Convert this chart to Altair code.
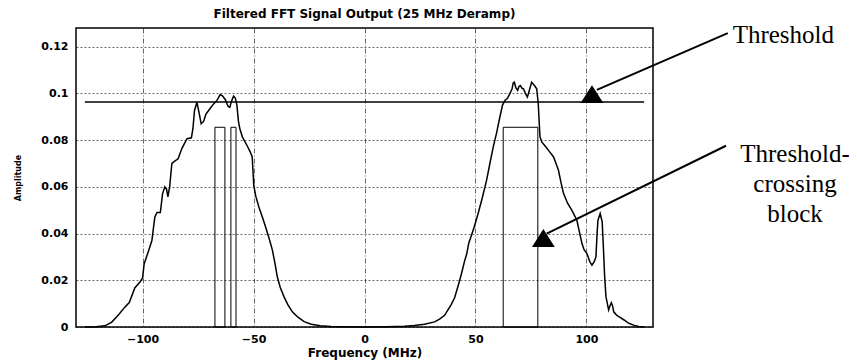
import altair as alt
import pandas as pd

# ---- data ----
freq = [-126, -121, -117, -114, -111, -108, -106, -103.5, -101, -100, -99.3, -97.5, -95.8, -94.5, -93.5, -92,
        -91, -90, -89.2, -88.6, -87.8, -86.8, -85.5, -84, -82.3, -80, -78, -77.3, -76.6, -75.5, -74.6, -73.6,
        -72.5, -71.5, -70, -68, -66.5, -65, -64, -62.7, -61.5, -60.7, -59.8, -59, -58.2, -57.5, -56.8, -56.2,
        -55, -53, -51.5, -50.6, -50.2, -49.9, -49, -47.6, -46, -44.6, -43, -41.5, -40.3, -39.3, -38, -36.3,
        -34.5, -32.5, -30, -27.2, -24, -20, -15, -10, 0, 10, 18, 22.5, 27, 31.6, 34, 36.1, 37.6, 39, 40.6,
        42, 42.9, 44, 45.2, 46, 47, 48.2, 49.5, 51.2, 53, 55, 56.5, 58, 59.5, 61, 62.2, 63.3, 64.5, 65.5,
        66.5, 67, 67.5, 68.2, 69, 69.6, 70.2, 71, 71.6, 72.5, 73.4, 74.2, 75.3, 76.5, 77.6, 78.3, 78.8, 79.1,
        80, 81.4, 83, 85.2, 86.3, 87.4, 88.5, 89.7, 91.5, 93.4, 95.7, 97, 98, 99, 100.2, 101.5, 102.5, 103.5,
        104.3, 104.8, 105.2, 106.2, 107.1, 107.6, 108.2, 108.8, 110, 110.6, 111.2, 111.8, 112.3, 113.5, 114.6,
        117, 119.1, 121.5, 123.6, 126]
amp = [0.0, 0.0001, 0.0005, 0.002, 0.005, 0.0085, 0.0105, 0.0167, 0.0195, 0.021, 0.027, 0.032, 0.037, 0.047,
       0.049, 0.049, 0.057, 0.060, 0.059, 0.0557, 0.060, 0.070, 0.071, 0.072, 0.0764, 0.0806, 0.081, 0.085,
       0.0927, 0.0962, 0.092, 0.087, 0.088, 0.091, 0.093, 0.0955, 0.097, 0.0995, 0.099, 0.0973, 0.0945, 0.094,
       0.097, 0.0988, 0.098, 0.095, 0.088, 0.085, 0.0813, 0.0778, 0.075, 0.0728, 0.066, 0.0607, 0.056, 0.0514,
       0.047, 0.0429, 0.038, 0.0329, 0.027, 0.0215, 0.017, 0.013, 0.0095, 0.0065, 0.0042, 0.0023, 0.0012,
       0.0005, 0.0002, 0.0001, 0.0, 0.0001, 0.0003, 0.0006, 0.0012, 0.0022, 0.0035, 0.0050, 0.0073, 0.0095,
       0.0125, 0.017, 0.020, 0.024, 0.0286, 0.031, 0.036, 0.0393, 0.043, 0.0486, 0.055, 0.0628, 0.070, 0.077,
       0.083, 0.0899, 0.095, 0.097, 0.098, 0.0999, 0.102, 0.1045, 0.1048, 0.1025, 0.1013, 0.103, 0.1034,
       0.1022, 0.102, 0.100, 0.0984, 0.101, 0.1048, 0.1035, 0.102, 0.0956, 0.086, 0.0813, 0.079, 0.0775,
       0.0755, 0.0728, 0.070, 0.0671, 0.062, 0.0571, 0.053, 0.050, 0.0457, 0.040, 0.0357, 0.033, 0.0315,
       0.028, 0.0265, 0.028, 0.030, 0.040, 0.0457, 0.0486, 0.045, 0.035, 0.022, 0.013, 0.0073, 0.009, 0.0104,
       0.009, 0.0065, 0.0052, 0.0044, 0.003, 0.0016, 0.0007, 0.0002, 0.0]

block_start = [-67.4, -60.2, 62.5]
block_end = [-62.9, -57.9, 78.1]
block_top = [0.0855, 0.0855, 0.0855]

threshold = 0.0963
threshold_from = -126
threshold_to = 126

x_ticks = [-100, -50, 0, 50, 100]
y_ticks = [0, 0.02, 0.04, 0.06, 0.08, 0.1, 0.12]

title_text = "Filtered FFT Signal Output (25 MHz Deramp)"

# annotation arrows (data coordinates)
arrow_x = [104.7, 82.1]
arrow_y = [0.1015, 0.040]
arrow_x2 = [163.7, 162.9]
arrow_y2 = [0.1258, 0.0776]
tri_x = [102.5, 80.6]
tri_y = [0.0997, 0.0381]

label_text = ["Threshold", "Threshold-", "crossing", "block"]
label_x = [165.9, 194.0, 194.0, 194.0]
label_y = [0.1216, 0.0705, 0.0576, 0.0448]
label_align = ["left", "center", "center", "center"]

xs = alt.Scale(domain=[-130, 130], nice=False, zero=False)
ys = alt.Scale(domain=[0, 0.128], nice=False, zero=False)

curve_df = pd.DataFrame({"f": freq, "a": amp})
block_df = pd.DataFrame({"s": block_start, "e": block_end, "t": block_top, "b": [0] * len(block_top)})
thr_df = pd.DataFrame({"x": [threshold_from], "x2": [threshold_to], "y": [threshold]})
arrow_df = pd.DataFrame({"x": arrow_x, "y": arrow_y, "x2": arrow_x2, "y2": arrow_y2})
tri_df = pd.DataFrame({"x": tri_x, "y": tri_y})
lab_df = pd.DataFrame({"t": label_text, "x": label_x, "y": label_y, "al": label_align})
title_df = pd.DataFrame({"t": [title_text]})

lab_font = "DejaVu Sans"

curve = alt.Chart(curve_df).mark_line(color="black", strokeWidth=1.5).encode(
    x=alt.X("f:Q", scale=xs, axis=alt.Axis(values=x_ticks, title="Frequency (MHz)", format="d")),
    y=alt.Y("a:Q", scale=ys, axis=alt.Axis(values=y_ticks, title="Amplitude", format="~g")),
)

blocks = alt.Chart(block_df).mark_rect(filled=False, stroke="black", strokeWidth=1).encode(
    x=alt.X("s:Q", scale=xs), x2="e:Q", y=alt.Y("b:Q", scale=ys), y2="t:Q"
)

thr = alt.Chart(thr_df).mark_rule(color="black", strokeWidth=1.4).encode(
    x=alt.X("x:Q", scale=xs), x2="x2:Q", y=alt.Y("y:Q", scale=ys)
)

arrows = alt.Chart(arrow_df).mark_rule(color="black", strokeWidth=2, clip=False).encode(
    x=alt.X("x:Q", scale=xs), x2="x2:Q", y=alt.Y("y:Q", scale=ys), y2="y2:Q"
)

tris = alt.Chart(tri_df).mark_point(
    shape="M0,-0.78L-1,0.78L1,0.78Z", filled=True, color="black", opacity=1, size=520, clip=False
).encode(x=alt.X("x:Q", scale=xs), y=alt.Y("y:Q", scale=ys))

labels_left = alt.Chart(lab_df[lab_df.al == "left"]).mark_text(
    font="Liberation Serif", fontSize=25, align="left", baseline="alphabetic", color="black", clip=False
).encode(x=alt.X("x:Q", scale=xs), y=alt.Y("y:Q", scale=ys), text="t:N")

labels_center = alt.Chart(lab_df[lab_df.al == "center"]).mark_text(
    font="Liberation Serif", fontSize=25, align="center", baseline="alphabetic", color="black", clip=False
).encode(x=alt.X("x:Q", scale=xs), y=alt.Y("y:Q", scale=ys), text="t:N")

title = alt.Chart(title_df).mark_text(
    font=lab_font, fontSize=12, fontWeight="bold", align="center", baseline="alphabetic",
    color="black", clip=False,
).encode(x=alt.value(288.5), y=alt.value(-10), text="t:N")

chart = alt.layer(blocks, curve, thr, arrows, tris, labels_left, labels_center, title).properties(
    width=577,
    height=299,
    autosize=alt.AutoSizeParams(type="none"),
    padding={"left": 68, "top": 20, "right": 196, "bottom": 33},
).configure_view(
    stroke="black", strokeWidth=1.5
).configure_axis(
    labelFont=lab_font, labelFontSize=11, labelFontWeight="bold", labelColor="black",
    titleFont=lab_font, titleFontWeight="bold", titleColor="black",
    domain=False, ticks=False, grid=True, gridColor="black", gridOpacity=0.75, gridWidth=0.8,
).configure_axisX(
    gridDash=[5, 2, 1, 2], labelPadding=6, titleFontSize=12, titlePadding=3,
).configure_axisY(
    gridDash=[2, 2], labelPadding=8, titleFontSize=8, titlePadding=18,
)

chart.save("out.html", embed_options={"renderer": "svg", "actions": False})
